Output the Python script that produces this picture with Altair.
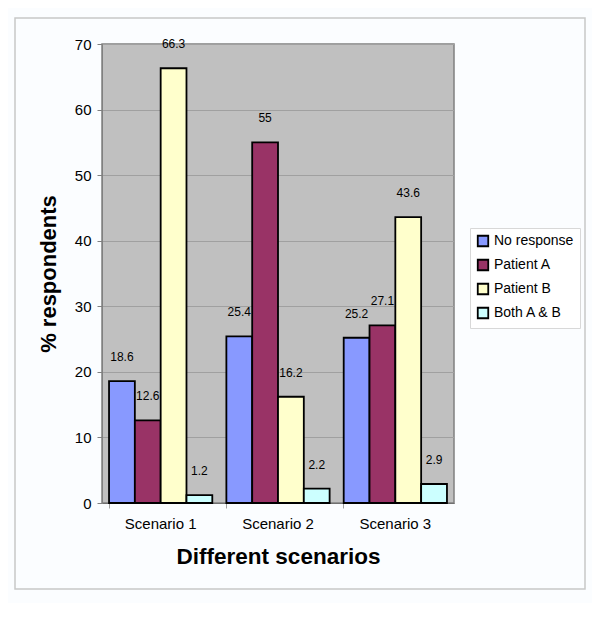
import altair as alt
import pandas as pd

scenarios = ["Scenario 1", "Scenario 2", "Scenario 3"]
responses = ["No response", "Patient A", "Patient B", "Both A & B"]
no_response = [18.6, 25.4, 25.2]
patient_a = [12.6, 55, 27.1]
patient_b = [66.3, 16.2, 43.6]
both_ab = [1.2, 2.2, 2.9]
colors = ["#8899ff", "#993366", "#ffffcc", "#ccffff"]

rows = []
for i, s in enumerate(scenarios):
    for r, vals in zip(responses, [no_response, patient_a, patient_b, both_ab]):
        rows.append({"scenario": s, "response": r, "value": vals[i]})
df = pd.DataFrame(rows)

FONT = "Liberation Sans"

x = alt.X("scenario:N", sort=scenarios,
          scale=alt.Scale(paddingInner=0.12, paddingOuter=0.06),
          axis=alt.Axis(title="Different scenarios", labelAngle=0, labelFontSize=15,
                        labelFont=FONT, titleFont=FONT, titleFontSize=22.5, titleFontWeight="bold",
                        titlePadding=14, labelPadding=8, bandPosition=0, tickSize=5,
                        tickColor="#a0a0a0", domainColor="#707070", labelColor="black",
                        titleColor="black"))
xo = alt.XOffset("response:N", sort=responses)

base = alt.Chart(df)

bars = base.mark_bar(stroke="black", strokeWidth=1.8).encode(
    x=x, xOffset=xo,
    y=alt.Y("value:Q", scale=alt.Scale(domain=[0, 70]),
            axis=alt.Axis(title="% respondents", values=list(range(0, 80, 10)),
                          labelFontSize=15, labelFont=FONT, titleFont=FONT,
                          titleFontSize=22, titleFontWeight="bold", titlePadding=14,
                          tickSize=5, labelPadding=6, gridColor="#a0a0a0",
                          tickColor="#808080", domainColor="#808080",
                          labelColor="black", titleColor="black")),
    color=alt.Color("response:N", sort=responses,
                    scale=alt.Scale(domain=responses, range=colors),
                    legend=alt.Legend(title=None, orient="none", legendX=368, legendY=184,
                                      symbolType="square", symbolSize=110,
                                      symbolStrokeColor="black", symbolStrokeWidth=1.8,
                                      labelFontSize=14, labelFont=FONT, labelColor="black",
                                      rowPadding=6, padding=6, strokeColor="#d8d8d8",
                                      fillColor="#ffffff", symbolOpacity=1)),
)

labels = base.mark_text(fontSize=12, font=FONT, dy=-24, color="black").encode(
    x=x, xOffset=xo, y="value:Q", text=alt.Text("value:Q"),
)

border_df = pd.DataFrame({"k": [0]})
border = alt.Chart(border_df).mark_rect(fill=None, stroke="#c8c8c8", strokeWidth=1.5).encode(
    x=alt.value(-87), x2=alt.value(483), y=alt.value(-26), y2=alt.value(545)
)

chart = alt.layer(border, bars, labels).properties(
    width=352, height=459,
    autosize=alt.AutoSizeParams(type="none"),
    padding={"left": 94, "top": 36, "right": 138, "bottom": 100},
    background="#fbfdff",
).configure_view(fill="#c0c0c0", stroke="#808080", strokeWidth=1.5)

chart.save("out.html", embed_options={"renderer": "svg", "actions": False})
